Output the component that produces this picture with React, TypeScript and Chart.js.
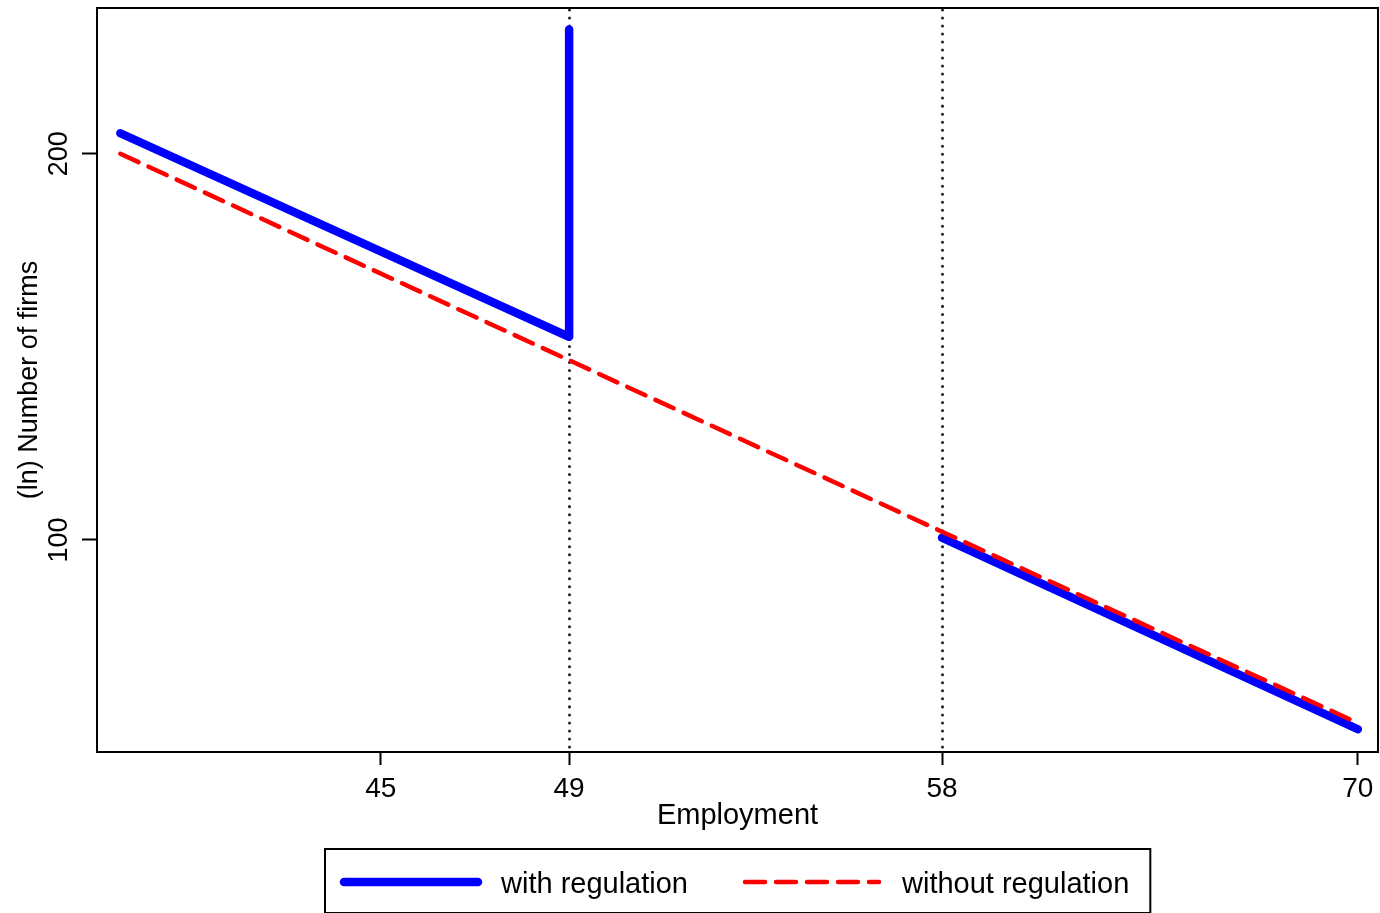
import { useEffect, useRef } from "react";
import { Chart, registerables } from "chart.js";

Chart.register(...registerables);

const FONT = '"Liberation Sans", Arial, Helvetica, sans-serif';

// Firm-size distribution: employment (x) vs. number of firms (y), log-log axes
const employmentWith = [40, 49, 49, 53, 58, 70];
const firmsWith: (number | null)[] = [207.5, 144, 250, null, 100.4, 71.2];
const employmentWithout = [40, 70];
const firmsWithout = [200, 72];

// Regulation thresholds marked by dotted vertical lines
const thresholds = [49, 58];

const xTicks = [45, 49, 58, 70];
const yTicks = [100, 200];
const xRange = [39.58, 70.64];
const yRange = [68.35, 259.8];

const seriesLabels = ["with regulation", "without regulation"];
const axisTitles = ["Employment", "(ln) Number of firms"];

const thresholdLines = {
  id: "thresholdLines",
  beforeDatasetsDraw(chart: any) {
    const { ctx, chartArea, scales } = chart;
    ctx.save();
    ctx.strokeStyle = "#222";
    ctx.lineWidth = 3;
    ctx.lineCap = "round";
    ctx.setLineDash([0.01, 8]);
    thresholds.forEach((v) => {
      const px = Math.round(scales.x.getPixelForValue(v)) + 0.5;
      ctx.beginPath();
      ctx.moveTo(px, chartArea.top + 2);
      ctx.lineTo(px, chartArea.bottom);
      ctx.stroke();
    });
    ctx.restore();
  },
};

const plotFrame = {
  id: "plotFrame",
  afterDraw(chart: any) {
    const { ctx, chartArea } = chart;
    ctx.save();
    ctx.strokeStyle = "#000";
    ctx.lineWidth = 2;
    ctx.strokeRect(
      chartArea.left,
      chartArea.top,
      chartArea.right - chartArea.left,
      chartArea.bottom - chartArea.top
    );
    ctx.restore();
  },
};

const boxedLegend = {
  id: "boxedLegend",
  afterDraw(chart: any) {
    const { ctx, chartArea } = chart;
    const ds = chart.data.datasets;
    ctx.save();
    ctx.font = `29px ${FONT}`;
    const sample = 134;
    const w0 = ctx.measureText(ds[0].label).width;
    const w1 = ctx.measureText(ds[1].label).width;
    const padL = 19;
    const gapText = 23;
    const gapItem = 57;
    const padR = 21;
    const total = padL + sample + gapText + w0 + gapItem + sample + gapText + w1 + padR;
    const left = Math.round((chartArea.left + chartArea.right) / 2 - total / 2);
    const top = chart.height - 64;
    const cy = top + 33;

    ctx.strokeStyle = "#000";
    ctx.lineWidth = 2;
    ctx.strokeRect(left, top, total, 64);

    let x = left + padL;
    [w0, w1].forEach((w, i) => {
      const d = ds[i];
      ctx.save();
      ctx.strokeStyle = d.borderColor;
      ctx.lineWidth = d.borderWidth;
      ctx.lineCap = "round";
      ctx.setLineDash(d.borderDash || []);
      ctx.beginPath();
      ctx.moveTo(x, cy);
      ctx.lineTo(x + sample, cy);
      ctx.stroke();
      ctx.restore();
      x += sample + gapText;
      ctx.fillStyle = "#000";
      ctx.textBaseline = "alphabetic";
      ctx.textAlign = "left";
      ctx.fillText(d.label, x, cy + 11);
      x += w + gapItem;
    });
    ctx.restore();
  },
};

export default function App() {
  const canvasRef = useRef<HTMLCanvasElement | null>(null);

  useEffect(() => {
    if (!canvasRef.current) return;
    const chart = new Chart(canvasRef.current, {
      type: "line",
      data: {
        datasets: [
          {
            label: seriesLabels[0],
            data: employmentWith.map((x, i) => ({ x, y: firmsWith[i] })) as any,
            borderColor: "#0000ff",
            backgroundColor: "#0000ff",
            borderWidth: 8.5,
            borderCapStyle: "round",
            borderJoinStyle: "round",
            pointRadius: 0,
            spanGaps: false,
            order: 2,
          },
          {
            label: seriesLabels[1],
            data: employmentWithout.map((x, i) => ({ x, y: firmsWithout[i] })),
            borderColor: "#ff0000",
            backgroundColor: "#ff0000",
            borderWidth: 4.5,
            borderDash: [20, 11],
            borderCapStyle: "round",
            pointRadius: 0,
            order: 1,
          },
        ],
      },
      options: {
        animation: false,
        responsive: false,
        events: [],
        layout: { padding: { left: 0, right: 2, top: 8, bottom: 71 } },
        plugins: {
          legend: { display: false },
          tooltip: { enabled: false },
        },
        scales: {
          x: {
            type: "logarithmic",
            min: xRange[0],
            max: xRange[1],
            bounds: "data",
            afterBuildTicks: (s: any) => {
              s.ticks = xTicks.map((v) => ({ value: v }));
            },
            afterFit: (s: any) => {
              s.height = 90;
              s.paddingLeft = 0;
              s.paddingRight = 0;
            },
            ticks: {
              autoSkip: false,
              maxRotation: 0,
              minRotation: 0,
              padding: 7,
              color: "#000",
              font: { family: FONT, size: 28 },
              callback: (v: any) => String(v),
            },
            grid: {
              display: true,
              drawOnChartArea: false,
              drawTicks: true,
              tickLength: 13,
              tickWidth: 2,
              tickColor: "#000",
            },
            border: { display: false },
            title: {
              display: true,
              text: axisTitles[0],
              color: "#000",
              font: { family: FONT, size: 29 },
              padding: { top: 0, bottom: 8.6 },
            },
          },
          y: {
            type: "logarithmic",
            min: yRange[0],
            max: yRange[1],
            bounds: "data",
            afterBuildTicks: (s: any) => {
              s.ticks = yTicks.map((v) => ({ value: v }));
            },
            afterFit: (s: any) => {
              s.width = 97;
              s.paddingTop = 0;
              s.paddingBottom = 0;
            },
            ticks: {
              autoSkip: false,
              minRotation: 90,
              maxRotation: 90,
              crossAlign: "center",
              padding: 0,
              color: "#000",
              font: { family: FONT, size: 27 },
              callback: (v: any) => String(v),
            },
            grid: {
              display: true,
              drawOnChartArea: false,
              drawTicks: true,
              tickLength: 15,
              tickWidth: 2,
              tickColor: "#000",
            },
            border: { display: false },
            title: {
              display: true,
              text: axisTitles[1],
              color: "#000",
              font: { family: FONT, size: 27 },
              padding: { top: 13, bottom: 0 },
            },
          },
        },
      },
      plugins: [thresholdLines, plotFrame, boxedLegend],
    } as any);
    return () => chart.destroy();
  }, []);

  return (
    <div
      style={{
        position: "fixed",
        left: 0,
        top: 0,
        width: 1380,
        height: 913,
        background: "#fff",
      }}
    >
      <canvas
        ref={canvasRef}
        width={1380}
        height={913}
        style={{ display: "block", width: 1380, height: 913 }}
      />
    </div>
  );
}
